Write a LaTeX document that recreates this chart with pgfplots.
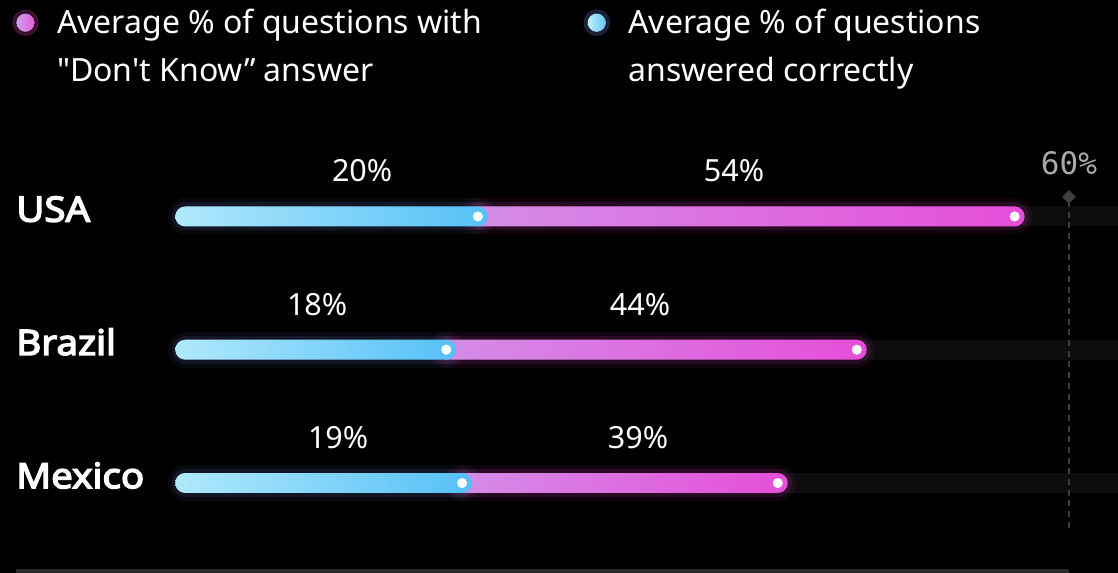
\documentclass[border=0pt]{standalone}
\usepackage{pgfplots}
\pgfplotsset{compat=1.18}
\usepackage{fontspec}
\setmainfont{Noto Sans}
\newfontfamily\plainfont{Noto Sans}
\newfontfamily\countryfont{Noto Sans}[FakeBold=4, FakeStretch=1.1]
\newfontfamily\monofont{DejaVu Sans Mono}
\definecolor{blueL}{HTML}{B0E9FB}
\definecolor{blueR}{HTML}{55C0F8}
\definecolor{pinkL}{HTML}{D38EE8}
\definecolor{pinkR}{HTML}{E64ED9}
\definecolor{glowB}{HTML}{7080D0}
\definecolor{glowP}{HTML}{E040C0}
\definecolor{cTrack}{HTML}{0D0D0D}
\definecolor{cRef}{HTML}{3E3E3E}
\definecolor{cRefText}{HTML}{AAAAAA}
\definecolor{cBottom}{HTML}{2A2A2A}
\definecolor{legP1}{HTML}{C8A2EE}
\definecolor{legP2}{HTML}{E95AD6}
\definecolor{legB1}{HTML}{C4EFFC}
\definecolor{legB2}{HTML}{5EC6F8}

\newcommand{\gbar}[6]{\addplot[forget plot, draw=none, left color=#5, right color=#6, rounded corners=10pt] coordinates {(#1,#3) (#2,#3) (#2,#4) (#1,#4)} -- cycle;}
\newcommand{\glowline}[4]{%
  \addplot[forget plot, #4, opacity=0.07, line width=36pt, line cap=round] coordinates {(#1,#3) (#2,#3)};
  \addplot[forget plot, #4, opacity=0.12, line width=28pt, line cap=round] coordinates {(#1,#3) (#2,#3)};}

\begin{document}
\begin{tikzpicture}
\begin{axis}[
  scale only axis, width=1118pt, height=573pt,
  xmin=-10.26, xmax=60.54, ymin=0, ymax=573,
  axis background/.style={fill=black},
  axis line style={draw=none},
  major tick length=0pt,
  xtick=\empty,
  ytick={89.9,223.2,356.5},
  yticklabels={Mexico,Brazil,USA},
  yticklabel style={anchor=base west, xshift=16pt, yshift=-5.2pt, inner sep=0pt, text=white, font=\countryfont\fontsize{35}{40}\selectfont},
  legend columns=2, legend cell align=left,
  legend style={at={(0,1)}, anchor=north west, xshift=15.5pt, yshift=-8.5pt,
    draw=none, fill=none, text=white, inner sep=0pt, nodes={inner sep=0pt},
    font=\fontsize{32}{48}\selectfont,
    /tikz/every odd column/.style={column sep=22pt},
    /tikz/column 2/.style={column sep=30pt}},
]
\addlegendimage{legend image code/.code={%
  \fill[overlay, glowP, opacity=0.25] (0pt,-1pt) circle (13pt);
  \shade[left color=legP1, right color=legP2] (0pt,-1pt) circle (9.5pt);}}
\addlegendentry{\parbox[t]{500pt}{Average \% of questions with\\{\plainfont "Don't Know”} answer}}
\addlegendimage{legend image code/.code={%
  \fill[overlay, glowB, opacity=0.25] (0pt,-1pt) circle (13pt);
  \shade[left color=legB1, right color=legB2] (0pt,-1pt) circle (9.5pt);}}
\addlegendentry{\parbox[t]{480pt}{Average \% of questions\\answered correctly}}

% background tracks
\addplot[forget plot, cTrack, line width=20pt] coordinates {(1.5,356.5) (62,356.5)};
\addplot[forget plot, cTrack, line width=20pt] coordinates {(1.5,223.2) (62,223.2)};
\addplot[forget plot, cTrack, line width=20pt] coordinates {(1.5,89.9) (62,89.9)};

% reference line at the 60% mark
\addplot[forget plot, cRef, line width=2pt, dash pattern=on 6pt off 4.7pt] coordinates {(57.44,45) (57.44,370)};
\addplot[forget plot, only marks, mark=square*, mark size=4.6pt, mark options={rotate=45, draw=cRef, fill=cRef}] coordinates {(57.44,376)};

% glows
\glowline{20}{54}{356.5}{glowP}
\glowline{1.5}{20}{356.5}{glowB}
\glowline{18}{44}{223.2}{glowP}
\glowline{1.5}{18}{223.2}{glowB}
\glowline{19}{39}{89.9}{glowP}
\glowline{1.5}{19}{89.9}{glowB}

% USA: correct 20, don't know 54
\gbar{19.37}{54.63}{346.5}{366.5}{pinkL}{pinkR}
\gbar{0.83}{20.63}{346.5}{366.5}{blueL}{blueR}
% Brazil: correct 18, don't know 44
\gbar{17.37}{44.63}{213.2}{233.2}{pinkL}{pinkR}
\gbar{0.83}{18.63}{213.2}{233.2}{blueL}{blueR}
% Mexico: correct 19, don't know 39
\gbar{18.37}{39.63}{79.9}{99.9}{pinkL}{pinkR}
\gbar{0.83}{19.63}{79.9}{99.9}{blueL}{blueR}

% end dots
\addplot[forget plot, only marks, mark=*, mark size=4.8pt, mark options={draw=white, fill=white}] coordinates {(20,356.5) (54,356.5) (18,223.2) (44,223.2) (19,89.9) (39,89.9)};

% value labels
\begin{scope}[every node/.style={anchor=base, text=white, inner sep=0pt, font=\fontsize{30.5}{32}\selectfont}]
\node at (axis cs:12.67,391) {20\%};
\node at (axis cs:36.23,391) {54\%};
\node at (axis cs:9.82,257.7) {18\%};
\node at (axis cs:30.27,257.7) {44\%};
\node at (axis cs:11.15,124) {19\%};
\node at (axis cs:30.15,124) {39\%};
\end{scope}
\node[anchor=base, inner sep=0pt, text=cRefText, font=\monofont\fontsize{31}{33}\selectfont] at (axis cs:57.44,398) {60\%};

% bottom rule
\fill[cBottom] (axis cs:-9.25,0) rectangle (axis cs:57.44,4);
\end{axis}
\end{tikzpicture}
\end{document}
